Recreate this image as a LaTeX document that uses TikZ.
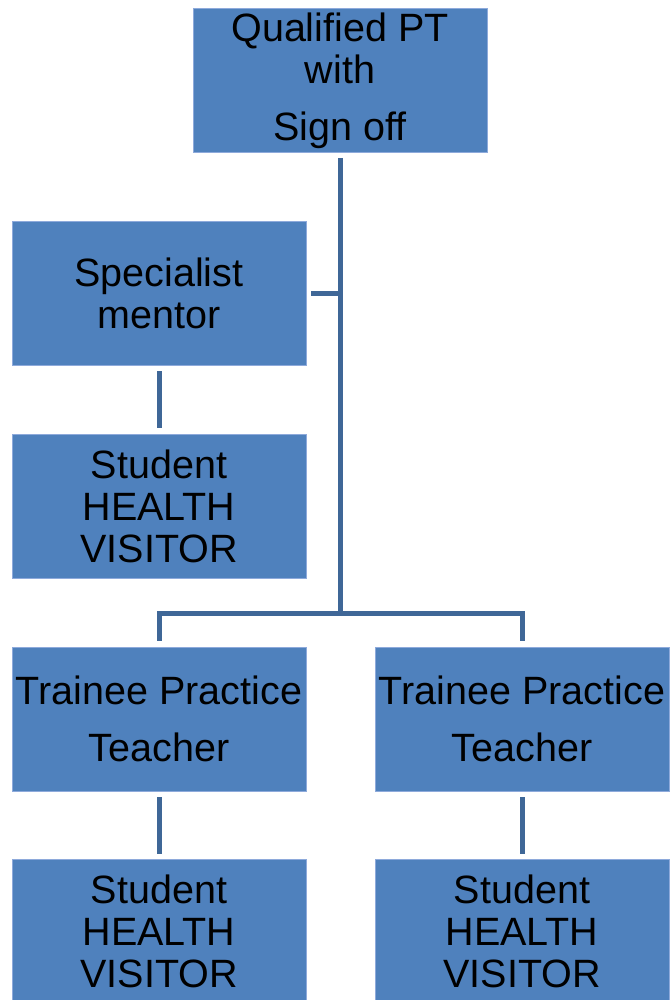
\documentclass[tikz,border=0pt]{standalone}
\usepackage{fontspec}
\setmainfont{Liberation Sans}
\definecolor{boxfill}{HTML}{4F81BD}
\definecolor{boxedge}{HTML}{8EAADB}
\definecolor{linkcol}{HTML}{3F6797}
\begin{document}
\begin{tikzpicture}[x=1pt,y=-1pt,
  orgbox/.style={rectangle,fill=boxfill,draw=boxedge,line width=0.8pt,
    minimum width=294pt,minimum height=144pt,inner sep=0pt,
    align=center,font=\fontsize{39.5}{42}\selectfont},
  link/.style={draw=linkcol,line width=5pt}]
\useasboundingbox (0,0) rectangle (670,1000);
\begin{scope}
\clip (0,0) rectangle (670,1000);
\node[orgbox] (pt) at (340,80.5) {Qualified PT\\with\\[15pt]Sign off};
\node[orgbox] (sm) at (159,293) {Specialist\\mentor};
\node[orgbox] (s1) at (159,506) {Student\\HEALTH\\VISITOR};
\node[orgbox] (t1) at (159,719) {Trainee Practice\\[15pt]Teacher};
\node[orgbox] (t2) at (522,719) {Trainee Practice\\[15pt]Teacher};
\node[orgbox] (s2) at (159,931) {Student\\HEALTH\\VISITOR};
\node[orgbox] (s3) at (522,931) {Student\\HEALTH\\VISITOR};
\coordinate (junc) at (340,613);
\coordinate (stub) at (340,293);
\draw[link] ([yshift=-5pt]pt.south) -- (junc);
\draw[link] ([xshift=5pt]sm.east) -- (stub);
\draw[link] ([yshift=-6pt]sm.south) -- ([yshift=6pt]s1.north);
\draw[link] ([yshift=6pt]t1.north) |- (junc) -| ([yshift=6pt]t2.north);
\draw[link] ([yshift=-6pt]t1.south) -- ([yshift=5pt]s2.north);
\draw[link] ([yshift=-6pt]t2.south) -- ([yshift=5pt]s3.north);
\end{scope}
\end{tikzpicture}
\end{document}
